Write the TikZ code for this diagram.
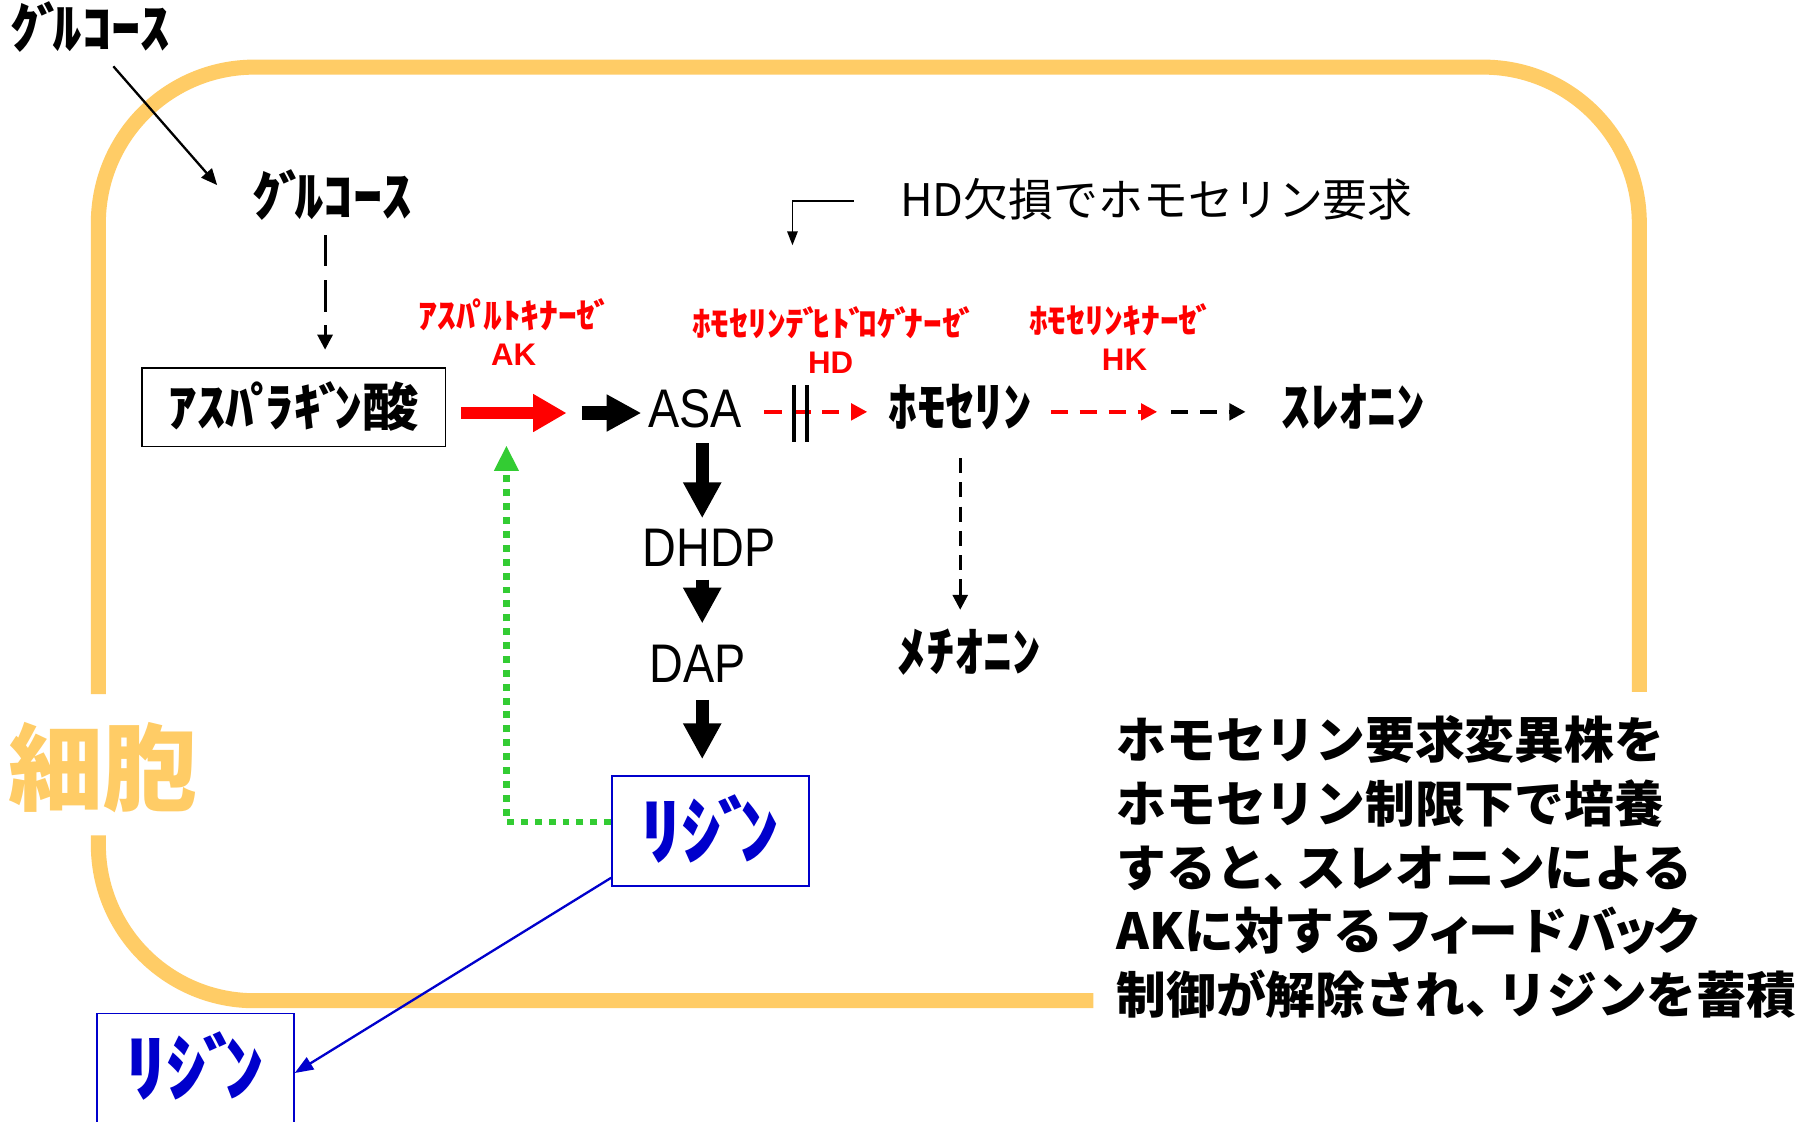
\documentclass[tikz,border=0pt]{standalone}
\usepackage{fontspec}
\usetikzlibrary{arrows.meta,calc}
\newfontfamily\jp{Noto Sans CJK JP}
\newfontfamily\jpk[FakeStretch=1.08]{Noto Sans CJK JP}
\newfontfamily\arn[FakeStretch=0.86]{Liberation Sans}
\newfontfamily\arb{Liberation Sans}
\newcommand\dkt{\kern-0.06em ﾞ\kern-0.24em}
\newcommand\hdkt{\kern-0.06em ﾟ\kern-0.24em}
\newcommand\tcomma{、\kern-0.35em}
\newcommand\smk[1]{\kern-0.15em #1\kern-0.15em}
\definecolor{memb}{HTML}{FFCC66}
\definecolor{lblue}{HTML}{0000CC}
\definecolor{fbgreen}{HTML}{33CC33}
\definecolor{enzred}{HTML}{FF0000}
\tikzset{
  membline/.style={draw=memb, line width=13pt, rounded corners=135pt},
  kat47/.style={font=\jpk\bfseries\fontsize{47}{47}\selectfont, inner sep=0pt, text height=38.5pt, text depth=3.8pt},
  kat46/.style={font=\jpk\bfseries\fontsize{46}{46}\selectfont, inner sep=0pt, text height=37.7pt, text depth=3.7pt},
  aspbox/.style={draw, line width=1.5pt, minimum width=262pt, minimum height=68pt, inner sep=0pt,
    font=\jpk\bfseries\fontsize{45}{45}\selectfont, text height=36.9pt, text depth=3.6pt},
  lat47/.style={font=\arn\fontsize{47}{47}\selectfont, inner sep=0pt, text height=33.7pt, text depth=0pt},
  lysbox/.style={draw=lblue, line width=1.5pt, minimum width=170pt, minimum height=95pt, inner sep=0pt,
    text=lblue, font=\jpk\bfseries\fontsize{64}{64}\selectfont, text height=52.5pt, text depth=5.1pt},
  enzname/.style={text=enzred, font=\jpk\bfseries\fontsize{30}{30}\selectfont, inner sep=0pt, text height=24.6pt, text depth=2.4pt},
  enzabbr/.style={text=enzred, font=\arb\bfseries\fontsize{27}{27}\selectfont, inner sep=0pt, text height=19.3pt, text depth=0pt},
  notetext/.style={font=\jp\fontsize{38.8}{38.8}\selectfont, inner sep=0pt, text height=31.8pt, text depth=3.1pt},
  celltext/.style={text=memb, font=\jp\bfseries\fontsize{82}{82}\selectfont, inner sep=0pt, text height=67pt, text depth=6.6pt},
  expl/.style={font=\jp\bfseries\fontsize{43}{43}\selectfont, inner sep=0pt, anchor=base west},
  thinarrow/.style={draw, line width=2pt, -{Triangle[length=14pt,width=12pt]}},
  dasharrow/.style={draw, line width=2.5pt, dash pattern=on 27pt off 12pt, -{Triangle[length=13pt,width=13pt]}},
  shortdash/.style={draw, line width=2.5pt, dash pattern=on 13pt off 8pt, -{Triangle[length=13pt,width=13pt]}},
  reddash/.style={draw=enzred, line width=4pt, dash pattern=on 15pt off 10pt, -{Triangle[length=14pt,width=14pt]}},
  blackdash/.style={draw, line width=4pt, dash pattern=on 15pt off 10pt, -{Triangle[length=14pt,width=14pt]}},
  fatdown/.style={draw, line width=11pt, -{Triangle[length=31pt,width=31pt]}},
  fatred/.style={draw=enzred, line width=10pt, -{Triangle[length=29pt,width=31pt]}},
  fatblack/.style={draw, line width=12pt, -{Triangle[length=30pt,width=30pt]}},
  barline/.style={draw, line width=3.5pt},
  greendot/.style={draw=fbgreen, line width=5.5pt, dash pattern=on 6pt off 6pt, -{Triangle[length=22pt,width=20pt]}},
  bluearrow/.style={draw=lblue, line width=2pt, -{Triangle[length=16pt,width=12pt]}},
  notearrow/.style={draw, line width=1.5pt, -{Triangle[length=12pt,width=9pt]}},
}
\begin{document}
\begin{tikzpicture}[x=1pt,y=-1pt]
\useasboundingbox[fill=white] (0,0) rectangle (1568,969);
% cell membrane
\draw[membline] (1417,598) -- (1417,58) -- (85,58) -- (85,600);
\draw[membline] (85,722) -- (85,865) -- (945,865);
\node[celltext] (cell) at (89,664) {細胞};
% nodes
\node[kat47] (glu0) at (78,25) {ｸ\dkt ﾙｺｰｽ};
\node[kat47] (glu1) at (287,170) {ｸ\dkt ﾙｺｰｽ};
\node[aspbox] (asp) at (254,352) {ｱｽﾊ\hdkt ﾗｷ\dkt ﾝ酸};
\node[lat47] (ASA) at (601,353) {ASA};
\node[kat46] (hse) at (830,352) {ﾎﾓｾﾘﾝ};
\node[kat46] (thr) at (1170,352) {ｽﾚｵﾆﾝ};
\node[kat46] (met) at (838,563) {ﾒﾁｵﾆﾝ};
\node[lat47] (dhdp) at (613,473) {DHDP};
\node[lat47] (dap) at (603,573) {DAP};
\node[lysbox] (lys) at (614,718.5) {ﾘｼ\dkt ﾝ};
\node[lysbox] (lysout) at (169,923.5) {ﾘｼ\dkt ﾝ};
% enzyme labels
\node[enzname] (akname) at (442,273) {ｱｽﾊ\hdkt ﾙﾄｷﾅｰｾ\dkt};
\node[enzabbr] (ak) at (444,306) {AK};
\node[enzname] (hdname) at (718,280) {ﾎﾓｾﾘﾝﾃ\dkt ﾋﾄ\dkt ﾛｹ\dkt ﾅｰｾ\dkt};
\node[enzabbr] (hd) at (718,313) {HD};
\node[enzname] (hkname) at (966,277) {ﾎﾓｾﾘﾝｷﾅｰｾ\dkt};
\node[enzabbr] (hk) at (972,311) {HK};
% note
\node[notetext, anchor=west] (note) at (778,173) {HD欠損でホモセリン要求};
% explanation
\node[expl] (ex1) at (965,656) {ホモセリン要求変異株を};
\node[expl] (ex2) at (965,711) {ホモセリン制限下で培養};
\node[expl] (ex3) at (965,766) {すると\tcomma スレオニンによる};
\node[expl] (ex4) at (965,821) {AKに対するフ\smk{ィ}ードバ\smk{ッ}ク};
\node[expl] (ex5) at (965,876) {制御が解除され\tcomma リジンを蓄積};
% connectors
\draw[thinarrow] ($(glu0.south)+(20,11)$) -- ($(glu1.west)+(-30,-10)$);
\draw[dasharrow] ($(glu1.south)+(-6,12)$) -- ($(asp.north)+(27,-15)$);
\coordinate (akend) at ($(asp.east)+(104,5)$);
\draw[fatred] ($(asp.east)+(13,5)$) -- (akend);
\draw[fatblack] ($(akend)+(13,0)$) -- ($(ASA.west)+(-6,4)$);
\draw[reddash] ($(ASA.east)+(19,3)$) -- ($(hse.west)+(-18,4)$);
\draw[barline] ($(ASA.east)+(45,-20)$) -- ++(0,49);
\draw[barline] ($(ASA.east)+(56,-20)$) -- ++(0,49);
\coordinate (hkend) at ($(hse.east)+(108,4)$);
\draw[reddash] ($(hse.east)+(16,4)$) -- (hkend);
\draw[blackdash] ($(hkend)+(12,0)$) -- ($(thr.west)+(-31,4)$);
\draw[shortdash] ($(hse.south)+(0,23)$) -- ($(met.north)+(-8,-15)$);
\draw[fatdown] ($(ASA.south)+(6,13)$) -- ($(dhdp.north)+(-6,-8)$);
\draw[fatdown] ($(dhdp.south)+(-6,11)$) -- ($(dap.north)+(4,-17)$);
\draw[fatdown] ($(dap.south)+(4,15)$) -- ($(lys.north)+(-7,-14)$);
\draw[greendot] ($(lys.west)+(0,-8)$) -| ($(akend)+(-52,28)$);
\draw[bluearrow] ($(lys.south west)+(0,-8)$) -- ($(lysout.east)+(0,4)$);
\draw[notearrow] ($(note.west)+(-40,1)$) -| ($(note.west)+(-93,39)$);
\end{tikzpicture}
\end{document}
